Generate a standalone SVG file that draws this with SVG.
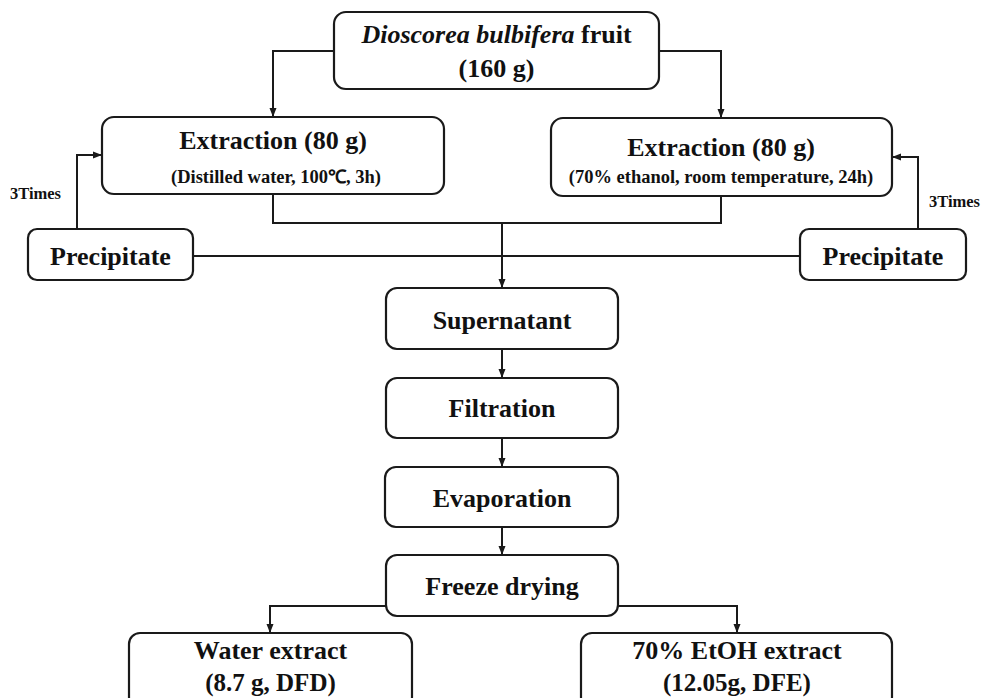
<svg xmlns="http://www.w3.org/2000/svg" width="984" height="698" viewBox="0 0 984 698">
<style>
.box{fill:#fff;stroke:#1a1a1a;stroke-width:2.2}
.ln{fill:none;stroke:#1a1a1a;stroke-width:2}
text{font-family:"Liberation Serif","Times New Roman",serif;font-weight:bold;fill:#111;text-anchor:middle}
.m{font-size:26px}
.b{font-size:25px}
.s{font-size:18.5px}
.t{font-size:16.5px;text-anchor:start}
</style>
<defs>
<marker id="ah" markerUnits="userSpaceOnUse" markerWidth="10" markerHeight="10" refX="9" refY="5" orient="auto">
<path d="M0,1.5 L9,5 L0,8.5 Z" fill="#1a1a1a"/>
</marker>
</defs>
<rect width="984" height="698" fill="#fff"/>
<g id="connectors">
<path class="ln" d="M334,51 H273 V117" marker-end="url(#ah)"/>
<path class="ln" d="M659,51 H721 V118" marker-end="url(#ah)"/>
<path class="ln" d="M273,194 V223 H721 V196"/>
<path class="ln" d="M502,223 V288" marker-end="url(#ah)"/>
<path class="ln" d="M193,256 H800"/>
<path class="ln" d="M77,229 V155 H102" marker-end="url(#ah)"/>
<path class="ln" d="M918,229 V157 H892" marker-end="url(#ah)"/>
<path class="ln" d="M502,349 V378" marker-end="url(#ah)"/>
<path class="ln" d="M502,438 V467" marker-end="url(#ah)"/>
<path class="ln" d="M502,527 V555" marker-end="url(#ah)"/>
<path class="ln" d="M386,606 H270 V633" marker-end="url(#ah)"/>
<path class="ln" d="M618,606 H737 V633" marker-end="url(#ah)"/>
</g>
<g id="n-fruit">
<rect class="box" x="334" y="12" width="325" height="77" rx="12"/>
<text class="m" x="496.5" y="43"><tspan font-style="italic">Dioscorea bulbifera</tspan> fruit</text>
<text class="m" x="496.5" y="77">(160 g)</text>
</g>
<g id="n-extract-water">
<rect class="box" x="102" y="117" width="342" height="77" rx="12"/>
<text class="m" x="273" y="149">Extraction (80 g)</text>
<text class="s" x="276" y="183">(Distilled water, 100℃, 3h)</text>
</g>
<g id="n-extract-etoh">
<rect class="box" x="551" y="118" width="341" height="78" rx="12"/>
<text class="m" x="721" y="156">Extraction (80 g)</text>
<text class="s" x="721" y="183">(70% ethanol, room temperature, 24h)</text>
</g>
<g id="n-precip-left">
<rect class="box" x="28" y="229" width="165" height="51" rx="9"/>
<text class="m" x="110.5" y="265">Precipitate</text>
</g>
<g id="n-precip-right">
<rect class="box" x="800" y="229" width="166" height="51" rx="9"/>
<text class="m" x="883" y="265">Precipitate</text>
</g>
<g id="l-3times-left"><text class="t" x="10" y="199">3Times</text></g>
<g id="l-3times-right"><text class="t" x="929" y="207">3Times</text></g>
<g id="n-supernatant">
<rect class="box" x="386" y="288" width="232" height="61" rx="11"/>
<text class="m" x="502" y="329">Supernatant</text>
</g>
<g id="n-filtration">
<rect class="box" x="386" y="378" width="232" height="60" rx="11"/>
<text class="m" x="502" y="417">Filtration</text>
</g>
<g id="n-evaporation">
<rect class="box" x="385" y="467" width="233" height="60" rx="11"/>
<text class="m" x="502" y="507">Evaporation</text>
</g>
<g id="n-freeze">
<rect class="box" x="386" y="555" width="232" height="61" rx="11"/>
<text class="m" x="502" y="595">Freeze drying</text>
</g>
<g id="n-water-extract">
<rect class="box" x="129" y="633" width="283" height="75" rx="11"/>
<text class="m" x="270.5" y="659">Water extract</text>
<text class="b" x="270.5" y="691">(8.7 g, DFD)</text>
</g>
<g id="n-etoh-extract">
<rect class="box" x="581" y="633" width="311" height="75" rx="11"/>
<text class="m" x="737" y="659">70% EtOH extract</text>
<text class="b" x="737" y="691">(12.05g, DFE)</text>
</g>
</svg>
